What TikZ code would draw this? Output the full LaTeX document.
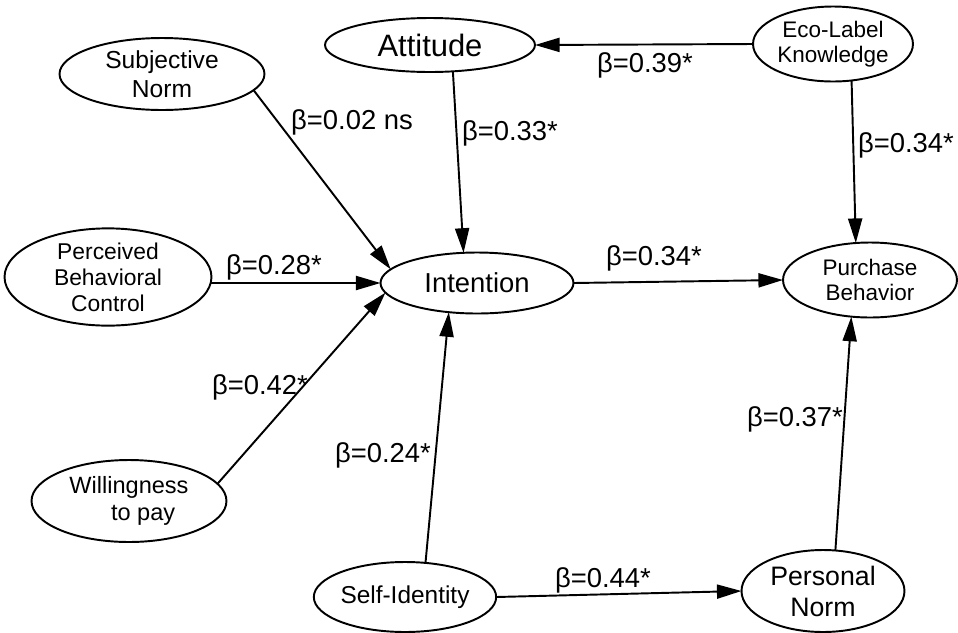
\documentclass[tikz,border=0pt]{standalone}
\usepackage{fontspec}
\setmainfont{Liberation Sans}
\usetikzlibrary{shapes.geometric,arrows.meta}
\begin{document}
\begin{tikzpicture}[x=0.02cm,y=-0.02cm,
  var/.style={ellipse,draw,line width=1.1pt,inner sep=0pt,outer sep=0pt,align=center},
  arr/.style={line width=1.1pt,-{Triangle[length=14pt,width=8pt]}},
  lab/.style={font=\fontsize{15.6}{18}\selectfont,inner sep=0pt}]
\useasboundingbox (0,0) rectangle (958,633);
\node[var,minimum width=4.1cm,minimum height=1.44cm,font=\fontsize{14}{16.4}\selectfont] (SN) at (162,74) {Subjective\\Norm};
\node[var,minimum width=4.2cm,minimum height=1.08cm,font=\fontsize{17.6}{20}\selectfont] (Att) at (430,45) {Attitude};
\node[var,minimum width=3.2cm,minimum height=1.5cm,font=\fontsize{12.8}{14}\selectfont] (Eco) at (833,44) {Eco-Label\\Knowledge};
\node[var,minimum width=4.14cm,minimum height=1.66cm,font=\fontsize{13}{14.8}\selectfont] (PBC) at (108,277) {Perceived\\Behavioral\\Control};
\node[var,minimum width=3.86cm,minimum height=1.22cm,font=\fontsize{15.6}{19}\selectfont] (Int) at (477,283) {Intention};
\node[var,minimum width=3.48cm,minimum height=1.5cm,font=\fontsize{12.8}{14.4}\selectfont] (PB) at (870,280) {Purchase\\Behavior};
\node[var,minimum width=3.9cm,minimum height=1.64cm,font=\fontsize{13.4}{15.3}\selectfont] (WTP) at (129,501) {Willingness\\\hspace*{1.2em}to pay};
\node[var,minimum width=3.48cm,minimum height=1.4cm,font=\fontsize{13.9}{17}\selectfont] (SI) at (405,597) {Self-Identity};
\node[var,minimum width=3.26cm,minimum height=1.64cm,font=\fontsize{15.2}{17.6}\selectfont] (PN) at (823,591) {Personal\\Norm};

\draw[arr] (SN.-10.7) -- (Int.171.7);
\draw[arr] (Att.-49.6) -- (Int.114.3);
\draw[arr] (Int.west -| PBC.east) -- (Int.west);
\draw[arr] (WTP.11.2) -- (Int.186.4);
\draw[arr] (SI.59) -- (Int.226);
\draw[arr] (Int.east) -- (PB.west);
\draw[arr] (Eco.west) -- (Att.east);
\draw[arr] (Eco.-63.4) -- (PB.111.5);
\draw[arr] (SI.east) -- (PN.west);
\draw[arr] (PN.73.7) -- (PB.243);

\node[lab] (l1) at (352,122) {β=0.02 ns};
\node[lab] (l2) at (510,133) {β=0.33*};
\node[lab] (l3) at (645,65) {β=0.39*};
\node[lab] (l4) at (906,145) {β=0.34*};
\node[lab] (l5) at (274,267) {β=0.28*};
\node[lab] (l6) at (654,258) {β=0.34*};
\node[lab] (l7) at (260,387) {β=0.42*};
\node[lab] (l8) at (383,455) {β=0.24*};
\node[lab] (l9) at (795,419) {β=0.37*};
\node[lab] (l10) at (603,580) {β=0.44*};
\end{tikzpicture}
\end{document}
